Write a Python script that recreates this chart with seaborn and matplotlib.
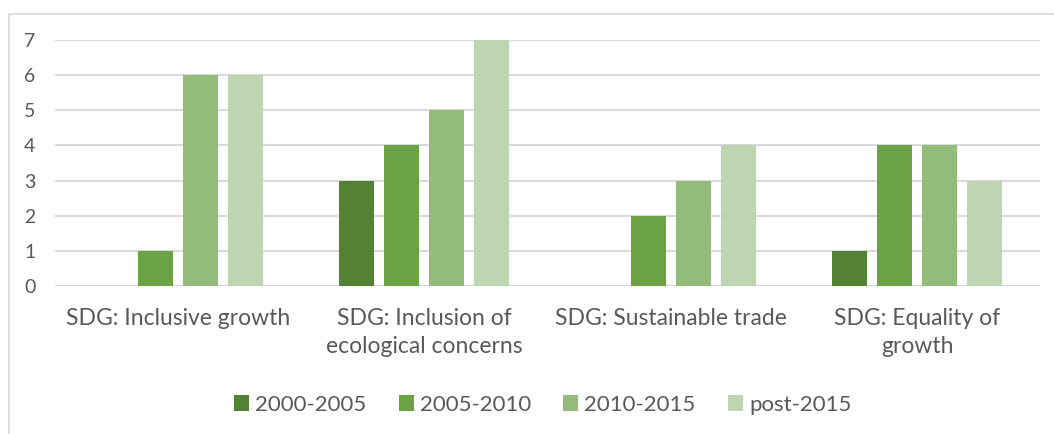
import matplotlib
matplotlib.use("Agg")
from matplotlib import pyplot as plt
from matplotlib.patches import Rectangle
import pandas as pd
import seaborn as sns

categories = [
    "SDG: Inclusive growth",
    "SDG: Inclusion of\necological concerns",
    "SDG: Sustainable trade",
    "SDG: Equality of\ngrowth",
]
periods = ["2000-2005", "2005-2010", "2010-2015", "post-2015"]
v_2000_2005 = [0, 3, 0, 1]
v_2005_2010 = [1, 4, 2, 4]
v_2010_2015 = [6, 5, 3, 4]
v_post_2015 = [6, 7, 4, 3]
colors = ["#548235", "#6AA245", "#93BB79", "#BED5B1"]

rows = []
for period, vals in zip(periods, [v_2000_2005, v_2005_2010, v_2010_2015, v_post_2015]):
    for cat, v in zip(categories, vals):
        rows.append({"Category": cat, "Period": period, "Count": v})
df = pd.DataFrame(rows)

sns.set_style("white")
plt.rcParams["font.family"] = ["Lato", "DejaVu Sans"]
text_color = "#595959"

fig = plt.figure(figsize=(10.54, 4.34), dpi=100)
ax = fig.add_axes([0.052, 0.341, 0.935, 0.567])

sns.barplot(
    data=df, x="Category", y="Count", hue="Period",
    hue_order=periods, palette=colors, width=0.73, gap=0.22,
    saturation=1, linewidth=0, ax=ax, legend=True,
)

ax.set_ylim(0, 7)
ax.set_yticks(range(0, 8))
ax.set_xlim(-0.5, 3.5)
ax.yaxis.grid(True, color="#D9D9D9", linewidth=1.5)
ax.set_axisbelow(True)
for s in ax.spines.values():
    s.set_visible(False)
ax.axhline(0, color="#D9D9D9", linewidth=1.5, zorder=0)
ax.set_xlabel("")
ax.set_ylabel("")
ax.tick_params(axis="y", length=0, pad=14, labelsize=14, labelcolor=text_color)
ax.tick_params(axis="x", length=0, pad=16, labelsize=16.5, labelcolor=text_color)
for lbl in ax.get_xticklabels():
    lbl.set_linespacing(1.4)

handles, labels = ax.get_legend_handles_labels()
ax.legend_.remove()
fig.legend(
    handles, labels, loc="center", bbox_to_anchor=(0.515, 0.067), ncol=4,
    frameon=False, fontsize=16, labelcolor=text_color,
    handlelength=0.68, handleheight=0.68, handletextpad=0.27, columnspacing=1.45,
)

fig.patches.append(Rectangle((0.0085, -0.01), 1.0, 0.978, transform=fig.transFigure,
                             fill=False, edgecolor="#D9D9D9", linewidth=1.2))

fig.savefig("out.png", dpi=100)
